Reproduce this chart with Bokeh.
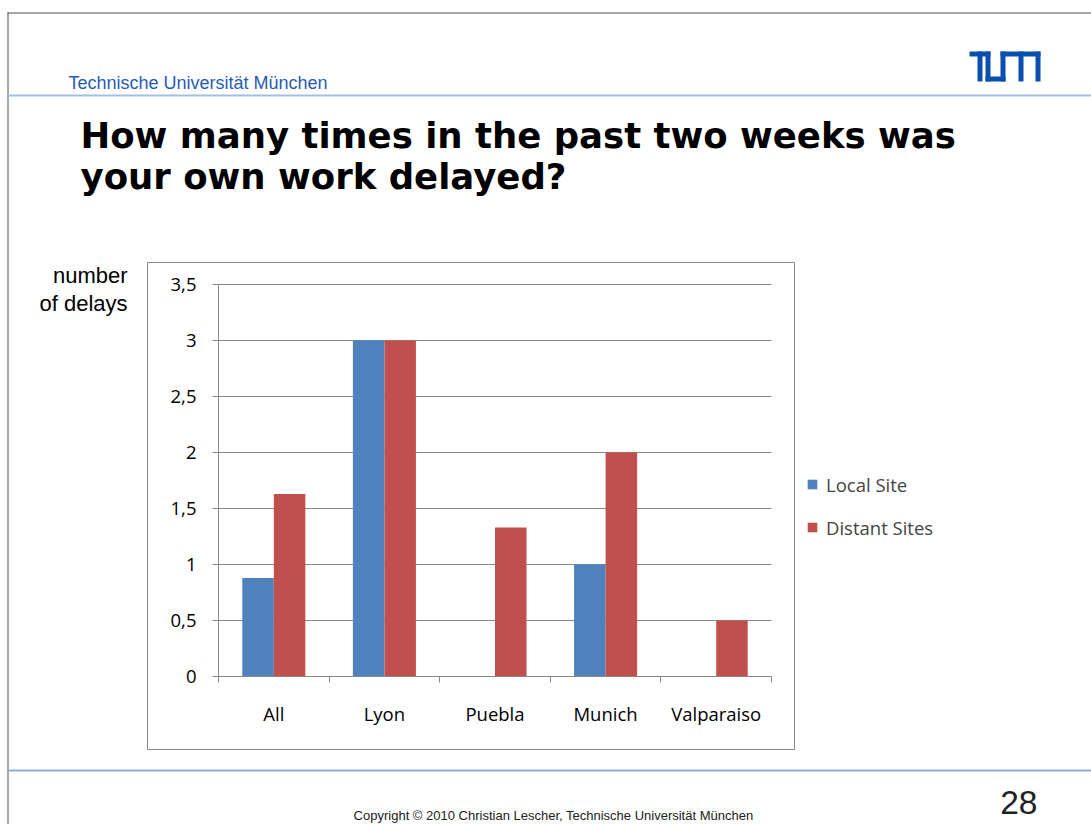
from bokeh.plotting import figure
from bokeh.models import (Range1d, FixedTicker, Label, BoxAnnotation, Legend,
                          LegendItem, ColumnDataSource)
from bokeh.transform import dodge
from bokeh.embed import file_html
from bokeh.resources import INLINE

# ---------------- data ----------------
categories = ["All", "Lyon", "Puebla", "Munich", "Valparaiso"]
local_site = [0.88, 3.0, 0.0, 1.0, 0.0]
distant_sites = [1.63, 3.0, 1.33, 2.0, 0.5]
series_names = ["Local Site", "Distant Sites"]
y_ticks = [0, 0.5, 1, 1.5, 2, 2.5, 3, 3.5]
y_tick_labels = ["0", "0,5", "1", "1,5", "2", "2,5", "3", "3,5"]

# ---------------- layout / styles ----------------
W, H = 1091, 824
PX0, PX1 = 218, 771          # pixel extent of the plot area (x)
PY0, PY1 = 676, 284          # pixel of y=0 and y=ymax
YMAX = 3.5
BLUE = "#4f81bd"
RED = "#c0504d"
GRAY = "#878787"
TICK_FONT = "Open Sans"
TICK_SIZE = "18.5px"

n = len(categories)
xs = (PX1 - PX0) / n
ys = (PY0 - PY1) / YMAX

x_pos = [i + 0.5 for i in range(n)]
src = ColumnDataSource(dict(x=x_pos, local=local_site, distant=distant_sites))

p = figure(width=W, height=H,
           x_range=Range1d(-PX0 / xs, (W - PX0) / xs),
           y_range=Range1d(-(H - PY0) / ys, PY0 / ys),
           output_backend="svg", toolbar_location=None,
           min_border=0, min_border_left=0, min_border_right=0,
           min_border_top=0, min_border_bottom=0)
p.outline_line_color = None
p.background_fill_color = "white"
p.border_fill_color = "white"

bw = 0.285
r1 = p.vbar(x=dodge("x", -bw / 2), top="local", width=bw, source=src,
            fill_color=BLUE, line_color=None)
r2 = p.vbar(x=dodge("x", bw / 2), top="distant", width=bw, source=src,
            fill_color=RED, line_color=None)

# x axis: labels at category centres, ticks at category boundaries
xa = p.xaxis[0]
xa.fixed_location = 0
xa.bounds = (0, n)
xa.ticker = FixedTicker(ticks=x_pos, minor_ticks=list(range(n + 1)))
xa.major_label_overrides = {x: c for x, c in zip(x_pos, categories)}
xa.major_tick_in = 0
xa.major_tick_out = 0
xa.minor_tick_in = 0
xa.minor_tick_out = 6
xa.minor_tick_line_color = GRAY
xa.axis_line_color = GRAY
xa.major_label_standoff = 18
xa.major_label_text_font = TICK_FONT
xa.major_label_text_font_size = TICK_SIZE
xa.major_label_text_color = "black"

ya = p.yaxis[0]
ya.fixed_location = 0
ya.bounds = (0, YMAX)
ya.ticker = FixedTicker(ticks=y_ticks)
ya.major_label_overrides = {t: s for t, s in zip(y_ticks, y_tick_labels)}
ya.major_tick_in = 0
ya.major_tick_out = 6
ya.minor_tick_line_color = None
ya.major_tick_line_color = GRAY
ya.axis_line_color = GRAY
ya.major_label_standoff = 16
ya.major_label_text_font = TICK_FONT
ya.major_label_text_font_size = TICK_SIZE
ya.major_label_text_color = "black"

p.xgrid.visible = False
p.ygrid.visible = False
# horizontal gridlines spanning only the plot area
p.segment(x0=[0] * len(y_ticks), x1=[n] * len(y_ticks), y0=y_ticks, y1=y_ticks,
          line_color=GRAY, line_width=1, level="underlay")

legend = Legend(items=[LegendItem(label=series_names[0], renderers=[r1]),
                       LegendItem(label=series_names[1], renderers=[r2])],
                location=(806, 284.5), padding=0, margin=0,
                border_line_color=None, background_fill_alpha=0,
                glyph_width=12, glyph_height=12, label_height=12,
                spacing=18, label_standoff=8,
                label_text_font=TICK_FONT, label_text_font_size=TICK_SIZE)
p.add_layout(legend)

# ---------------- slide decorations ----------------
def box(l, r, t, b, color, alpha=1.0, line=None):
    return BoxAnnotation(left=l, right=r, top=t, bottom=b,
                         left_units="canvas", right_units="canvas",
                         top_units="canvas", bottom_units="canvas",
                         fill_color=color, fill_alpha=alpha,
                         line_color=line, line_alpha=1.0, line_width=1,
                         level="overlay")

# slide border
p.add_layout(box(7, 8, 12, H, "#505050"))
p.add_layout(box(7, W, 12, 13, "#505050"))
# header / footer rules
p.add_layout(box(7, W, 94, 96, "#a3bfe0"))
p.add_layout(box(7, W, 769, 771, "#8caed8"))
# chart area frame
p.add_layout(box(147, 794, 262, 749, None, 0.0, GRAY))

# TUM logo
lx, ly = 969, 51
logo = [(0, 21, 0, 5), (8, 13, 0, 30), (16, 21, 0, 30), (16, 36, 25, 30),
        (31, 36, 0, 30), (31, 71, 0, 5), (49, 54, 0, 30), (66, 71, 0, 30)]
for x0, x1, y0, y1 in logo:
    p.add_layout(box(lx + x0, lx + x1, ly + y0, ly + y1, "#0b4fae"))

def label(x, y, text, font, size, color="black", align="left", style="normal"):
    # y is the wanted baseline; the renderer puts glyphs ~0.4em lower
    p.add_layout(Label(x=x, y=y - 0.4 * size, x_units="canvas", y_units="canvas",
                       text=text, text_font=font, text_font_size=f"{size}px",
                       text_color=color, text_align=align,
                       text_font_style=style, text_baseline="alphabetic"))

label(68, 90, "Technische Universität München", "Liberation Sans", 18, "#1f5db5")
label(80, 149, "How many times in the past two weeks was", "DejaVu Sans", 35.5,
      style="bold")
label(80, 190, "your own work delayed?", "DejaVu Sans", 35.5, style="bold")
label(127, 284, "number", "Liberation Sans", 22, align="right")
label(127, 312, "of delays", "Liberation Sans", 22, align="right")
label(1037, 815, "28", "Liberation Sans", 33.5, "#222222", align="right")
label(553, 820, "Copyright © 2010 Christian Lescher, Technische Universität München",
      "Liberation Sans", 13, "#222222", align="center")

open("out.html", "w").write(file_html(p, INLINE))
